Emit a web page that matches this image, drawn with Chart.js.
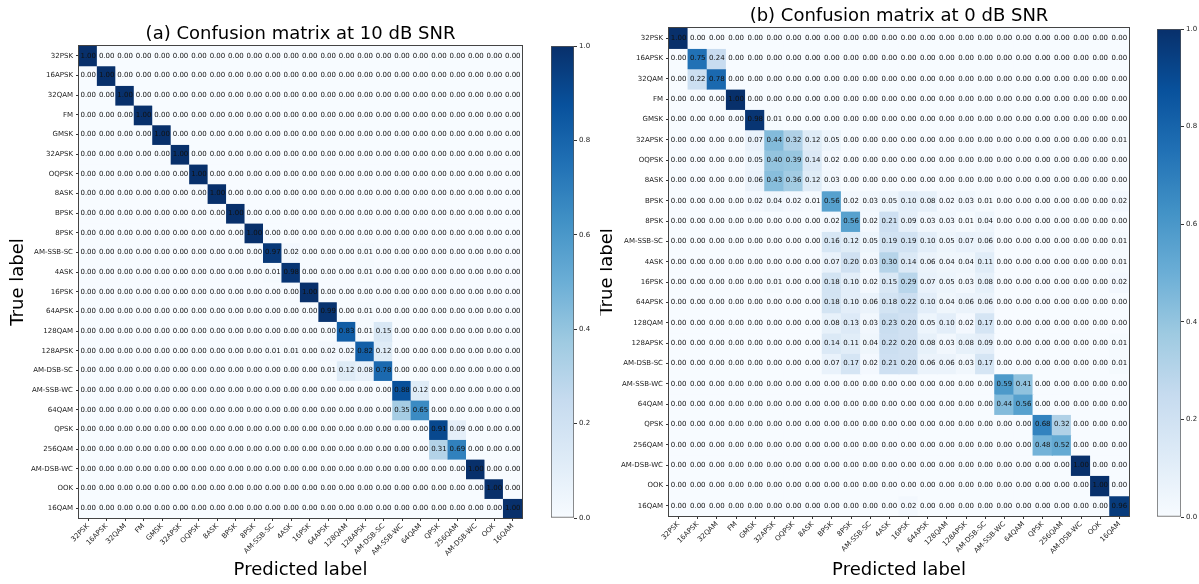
<!DOCTYPE html>
<html>
<head>
<meta charset="utf-8">
<script src="https://cdn.jsdelivr.net/npm/chart.js@4.4.1/dist/chart.umd.min.js"></script>
<style>
body { margin: 0; background: #fff; width: 1199px; height: 584px; position: relative; overflow: hidden; }
canvas { position: absolute; top: 0; }
</style>
</head>
<body>
<canvas id="cmA" width="600" height="584" style="left:0"></canvas>
<canvas id="cbA" width="60" height="584" style="left:540px"></canvas>
<canvas id="cmB" width="599" height="584" style="left:600px"></canvas>
<canvas id="cbB" width="54" height="584" style="left:1145px"></canvas>
<script>
// class names, same order on both axes
const labels = ['32PSK', '16APSK', '32QAM', 'FM', 'GMSK', '32APSK', 'OQPSK', '8ASK', 'BPSK', '8PSK',
  'AM-SSB-SC', '4ASK', '16PSK', '64APSK', '128QAM', '128APSK', 'AM-DSB-SC', 'AM-SSB-WC', '64QAM',
  'QPSK', '256QAM', 'AM-DSB-WC', 'OOK', '16QAM'];

const colorbarTicks = [0, 0.2, 0.4, 0.6, 0.8, 1.0];

// (a) 10 dB SNR, rows = true label, cols = predicted label
const cm10 = [
  [1,0,0,0,0,0, 0,0,0,0,0,0, 0,0,0,0,0,0, 0,0,0,0,0,0],
  [0,1,0,0,0,0, 0,0,0,0,0,0, 0,0,0,0,0,0, 0,0,0,0,0,0],
  [0,0,1,0,0,0, 0,0,0,0,0,0, 0,0,0,0,0,0, 0,0,0,0,0,0],
  [0,0,0,1,0,0, 0,0,0,0,0,0, 0,0,0,0,0,0, 0,0,0,0,0,0],
  [0,0,0,0,1,0, 0,0,0,0,0,0, 0,0,0,0,0,0, 0,0,0,0,0,0],
  [0,0,0,0,0,1, 0,0,0,0,0,0, 0,0,0,0,0,0, 0,0,0,0,0,0],
  [0,0,0,0,0,0, 1,0,0,0,0,0, 0,0,0,0,0,0, 0,0,0,0,0,0],
  [0,0,0,0,0,0, 0,1,0,0,0,0, 0,0,0,0,0,0, 0,0,0,0,0,0],
  [0,0,0,0,0,0, 0,0,1,0,0,0, 0,0,0,0,0,0, 0,0,0,0,0,0],
  [0,0,0,0,0,0, 0,0,0,1,0,0, 0,0,0,0,0,0, 0,0,0,0,0,0],
  [0,0,0,0,0,0, 0,0,0,0,.97,.02, 0,0,0,.01,0,0, 0,0,0,0,0,0],
  [0,0,0,0,0,0, 0,0,0,0,.01,.98, 0,0,0,.01,0,0, 0,0,0,0,0,0],
  [0,0,0,0,0,0, 0,0,0,0,0,0, 1,0,0,0,0,0, 0,0,0,0,0,0],
  [0,0,0,0,0,0, 0,0,0,0,0,0, 0,.99,0,.01,0,0, 0,0,0,0,0,0],
  [0,0,0,0,0,0, 0,0,0,0,0,0, 0,0,.83,.01,.15,0, 0,0,0,0,0,0],
  [0,0,0,0,0,0, 0,0,0,0,.01,.01, 0,.02,.02,.82,.12,0, 0,0,0,0,0,0],
  [0,0,0,0,0,0, 0,0,0,0,0,0, 0,.01,.12,.08,.78,0, 0,0,0,0,0,0],
  [0,0,0,0,0,0, 0,0,0,0,0,0, 0,0,0,0,0,.88, .12,0,0,0,0,0],
  [0,0,0,0,0,0, 0,0,0,0,0,0, 0,0,0,0,0,.35, .65,0,0,0,0,0],
  [0,0,0,0,0,0, 0,0,0,0,0,0, 0,0,0,0,0,0, 0,.91,.09,0,0,0],
  [0,0,0,0,0,0, 0,0,0,0,0,0, 0,0,0,0,0,0, 0,.31,.69,0,0,0],
  [0,0,0,0,0,0, 0,0,0,0,0,0, 0,0,0,0,0,0, 0,0,0,1,0,0],
  [0,0,0,0,0,0, 0,0,0,0,0,0, 0,0,0,0,0,0, 0,0,0,0,1,0],
  [0,0,0,0,0,0, 0,0,0,0,0,0, 0,0,0,0,0,0, 0,0,0,0,0,1]
];

// (b) 0 dB SNR
const cm0 = [
  [1,0,0,0,0,0, 0,0,0,0,0,0, 0,0,0,0,0,0, 0,0,0,0,0,0],
  [0,.75,.24,0,0,0, 0,0,0,0,0,0, 0,0,0,0,0,0, 0,0,0,0,0,0],
  [0,.22,.78,0,0,0, 0,0,0,0,0,0, 0,0,0,0,0,0, 0,0,0,0,0,0],
  [0,0,0,1,0,0, 0,0,0,0,0,0, 0,0,0,0,0,0, 0,0,0,0,0,0],
  [0,0,0,0,.98,.01, 0,0,0,0,0,0, 0,0,0,0,0,0, 0,0,0,0,0,0],
  [0,0,0,0,.07,.44, .32,.12,.05,0,0,0, 0,0,0,0,0,0, 0,0,0,0,0,.01],
  [0,0,0,0,.05,.40, .39,.14,.02,0,0,0, 0,0,0,0,0,0, 0,0,0,0,0,0],
  [0,0,0,0,.06,.43, .36,.12,.03,0,0,0, 0,0,0,0,0,0, 0,0,0,0,0,0],
  [0,0,0,0,.02,.04, .02,.01,.56,.02,.03,.05, .10,.08,.02,.03,.01,0, 0,0,0,0,0,.02],
  [0,0,0,0,0,0, 0,0,.02,.56,.02,.21, .09,.03,.03,.01,.04,0, 0,0,0,0,0,0],
  [0,0,0,0,0,0, 0,0,.16,.12,.05,.19, .19,.10,.05,.07,.06,0, 0,0,0,0,0,.01],
  [0,0,0,0,0,0, 0,0,.07,.20,.03,.30, .14,.06,.04,.04,.11,0, 0,0,0,0,0,.01],
  [0,0,0,0,0,.01, 0,0,.18,.10,.02,.15, .29,.07,.05,.03,.08,0, 0,0,0,0,0,.02],
  [0,0,0,0,0,0, 0,0,.18,.10,.06,.18, .22,.10,.04,.06,.06,0, 0,0,0,0,0,0],
  [0,0,0,0,0,0, 0,0,.08,.13,.03,.23, .20,.05,.10,.02,.17,0, 0,0,0,0,0,0],
  [0,0,0,0,0,0, 0,0,.14,.11,.04,.22, .20,.08,.03,.08,.09,0, 0,0,0,0,0,.01],
  [0,0,0,0,0,0, 0,0,.07,.17,.02,.21, .20,.06,.06,.03,.17,0, 0,0,0,0,0,.01],
  [0,0,0,0,0,0, 0,0,0,0,0,0, 0,0,0,0,0,.59, .41,0,0,0,0,0],
  [0,0,0,0,0,0, 0,0,0,0,0,0, 0,0,0,0,0,.44, .56,0,0,0,0,0],
  [0,0,0,0,0,0, 0,0,0,0,0,0, 0,0,0,0,0,0, 0,.68,.32,0,0,0],
  [0,0,0,0,0,0, 0,0,0,0,0,0, 0,0,0,0,0,0, 0,.48,.52,0,0,0],
  [0,0,0,0,0,0, 0,0,0,0,0,0, 0,0,0,0,0,0, 0,0,0,1,0,0],
  [0,0,0,0,0,0, 0,0,0,0,0,0, 0,0,0,0,0,0, 0,0,0,0,1,0],
  [0,0,0,0,0,0, 0,0,0,0,0,0, .02,0,0,0,0,0, 0,0,0,0,0,.96]
];

const FONT = 'DejaVu Sans';

// matplotlib "Blues"
const bluesStops = ['#f7fbff', '#deebf7', '#c6dbef', '#9ecae1', '#6baed6', '#4292c6', '#2171b5', '#08519c', '#08306b'];
function hexRgb(h) {
  return [parseInt(h.slice(1, 3), 16), parseInt(h.slice(3, 5), 16), parseInt(h.slice(5, 7), 16)];
}
function blues(v) {
  const t = Math.max(0, Math.min(1, v)) * 8;
  const i = Math.min(7, Math.floor(t));
  const f = t - i;
  const a = hexRgb(bluesStops[i]), b = hexRgb(bluesStops[i + 1]);
  const c = a.map((x, k) => Math.round(x + (b[k] - x) * f));
  return 'rgb(' + c.join(',') + ')';
}

// numbers in cells, frame, titles
const cellText = {
  id: 'cellText',
  afterDatasetsDraw(chart, args, opts) {
    const ctx = chart.ctx;
    const a = chart.chartArea;
    const xs = chart.scales.x, ys = chart.scales.y;
    ctx.save();
    ctx.font = '7px "' + FONT + '"';
    ctx.fillStyle = '#111';
    ctx.textAlign = 'center';
    ctx.textBaseline = 'middle';
    opts.cm.forEach((row, r) => {
      row.forEach((v, c) => {
        ctx.fillText(v.toFixed(2), xs.getPixelForValue(c), ys.getPixelForValue(r + 0.5));
      });
    });
    ctx.strokeStyle = '#444';
    ctx.lineWidth = 1;
    ctx.strokeRect(Math.round(a.left) - 0.5, Math.round(a.top) - 0.5,
      Math.round(a.right - a.left) + 1, Math.round(a.bottom - a.top) + 1);

    const cx = (a.left + a.right) / 2;
    ctx.fillStyle = '#000';
    ctx.font = '18px "' + FONT + '"';
    ctx.textBaseline = 'bottom';
    ctx.fillText(opts.title, cx, a.top - 3);
    ctx.textBaseline = 'middle';
    ctx.fillText('Predicted label', cx, 570);
    ctx.translate(opts.ylabelX, (a.top + a.bottom) / 2);
    ctx.rotate(-Math.PI / 2);
    ctx.fillText('True label', 0, 0);
    ctx.restore();
  }
};

function matrixChart(id, cm, title, pad, yw, xh, ylabelX) {
  const datasets = cm.map((row, r) => ({
    label: labels[r],
    data: row.map(() => 1),
    backgroundColor: row.map(blues),
    borderWidth: 0,
    inflateAmount: 0.6,
    categoryPercentage: 1,
    barPercentage: 1
  }));
  return new Chart(document.getElementById(id), {
    type: 'bar',
    data: { labels: labels, datasets: datasets },
    options: {
      responsive: false,
      animation: false,
      layout: { padding: pad },
      plugins: {
        legend: { display: false },
        tooltip: { enabled: false },
        cellText: { cm: cm, title: title, ylabelX: ylabelX }
      },
      scales: {
        x: {
          stacked: true,
          offset: true,
          border: { display: false },
          grid: { offset: false, drawOnChartArea: false, tickLength: 3, color: '#333' },
          ticks: { font: { family: FONT, size: 7 }, color: '#222', minRotation: 45, maxRotation: 45, autoSkip: false, padding: 1 },
          afterFit: s => { s.height = xh; }
        },
        y: {
          stacked: true,
          min: 0,
          max: 24,
          reverse: true,
          border: { display: false },
          grid: { drawOnChartArea: false, tickLength: 3, color: '#333' },
          afterBuildTicks: s => { s.ticks = labels.map((l, i) => ({ value: i + 0.5 })); },
          ticks: { font: { family: FONT, size: 7 }, color: '#222', padding: 3, autoSkip: false, callback: (v, i) => labels[i] },
          afterFit: s => { s.width = yw; }
        }
      }
    },
    plugins: [cellText]
  });
}

function colorbar(id, pad, yw) {
  return new Chart(document.getElementById(id), {
    type: 'bar',
    data: {
      labels: [''],
      datasets: [{
        data: [[0, 1]],
        backgroundColor: c => {
          const a = c.chart.chartArea;
          if (!a) return bluesStops[0];
          const g = c.chart.ctx.createLinearGradient(0, a.bottom, 0, a.top);
          bluesStops.forEach((col, i) => g.addColorStop(i / 8, col));
          return g;
        },
        borderColor: '#555',
        borderWidth: 1,
        borderSkipped: false,
        categoryPercentage: 1,
        barPercentage: 1
      }]
    },
    options: {
      responsive: false,
      animation: false,
      layout: { padding: pad },
      plugins: { legend: { display: false }, tooltip: { enabled: false } },
      scales: {
        x: { display: false },
        y: {
          position: 'right',
          min: 0,
          max: 1,
          border: { display: false },
          grid: { drawOnChartArea: false, tickLength: 3, color: '#333' },
          afterBuildTicks: s => { s.ticks = colorbarTicks.map(v => ({ value: v })); },
          ticks: { font: { family: FONT, size: 7 }, color: '#222', padding: 2, callback: v => v.toFixed(1) },
          afterFit: s => { s.width = yw; }
        }
      }
    }
  });
}

matrixChart('cmA', cm10, '(a) Confusion matrix at 10 dB SNR', { left: 0, top: 46, right: 78, bottom: 0 }, 79, 66, 18);
matrixChart('cmB', cm0, '(b) Confusion matrix at 0 dB SNR', { left: 0, top: 28, right: 70, bottom: 0 }, 69, 68, 7);
colorbar('cbA', { left: 11, top: 46, right: 0, bottom: 66 }, 26);
colorbar('cbB', { left: 12, top: 29, right: 0, bottom: 67 }, 18);
</script>
</body>
</html>
